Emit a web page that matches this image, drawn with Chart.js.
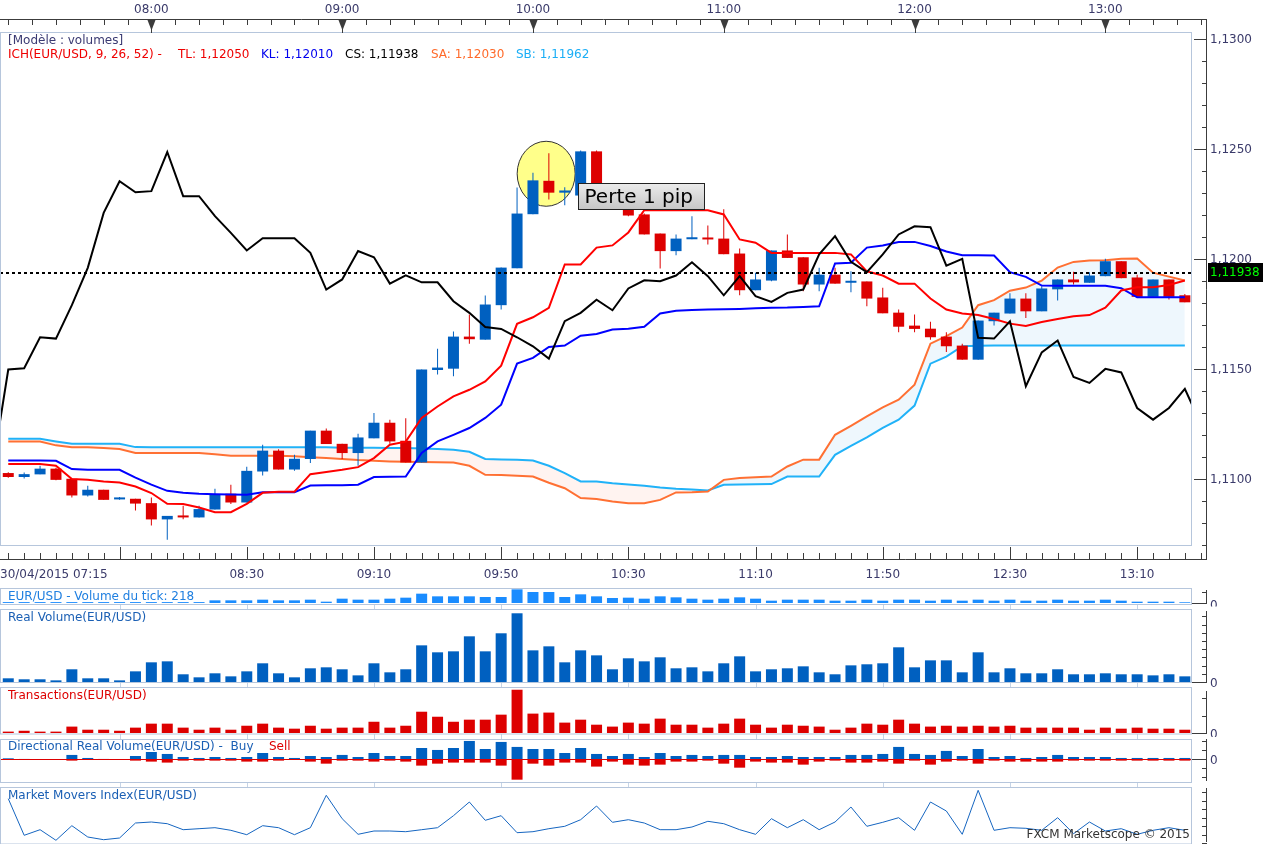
<!DOCTYPE html>
<html lang="fr">
<head>
<meta charset="utf-8">
<title>EUR/USD – Ichimoku & volumes</title>
<script src="https://cdn.jsdelivr.net/npm/chart.js@4.4.1/dist/chart.umd.min.js"></script>
<style>
html,body{margin:0;padding:0;background:#fff;}
#wrap{position:relative;width:1263px;height:844px;overflow:hidden;background:#fff;}
#wrap canvas{position:absolute;left:0;top:0;}
</style>
</head>
<body>
<div id="wrap">
<canvas id="cMain" width="1263" height="844"></canvas>
<canvas id="cTick" width="1263" height="844"></canvas>
<canvas id="cReal" width="1263" height="844"></canvas>
<canvas id="cTrans" width="1263" height="844"></canvas>
<canvas id="cDir" width="1263" height="844"></canvas>
<canvas id="cMmi" width="1263" height="844"></canvas>
</div>
<script>
// ---------------- DATA (5-minute candles, 30/04/2015 from 07:15) ----------------
const DATE_LABEL = '30/04/2015';
const START_TIME = '07:15';
const BAR_MINUTES = 5;

const opens = [1.11026,1.11008,1.11020,1.11046,1.11000,1.10924,1.10950,1.10906,1.10909,1.10889,
1.10815,1.10828,1.10824,1.10860,1.10932,1.10892,1.11033,1.11128,1.11042,1.11090,
1.11219,1.11159,1.11117,1.11184,1.11255,1.11173,1.11074,1.11495,1.11501,1.11647,
1.11633,1.11790,1.11958,1.12204,1.12356,1.12302,1.12289,1.12490,1.12280,1.12226,
1.12203,1.12116,1.12036,1.12090,1.12097,1.12093,1.12025,1.11858,1.11902,1.12039,
1.12008,1.11884,1.11929,1.11892,1.11898,1.11825,1.11756,1.11697,1.11683,1.11647,
1.11606,1.11542,1.11717,1.11752,1.11820,1.11762,1.11862,1.11907,1.11892,1.11922,
1.11990,1.11916,1.11828,1.11907,1.11835];
const highs = [1.11030,1.11029,1.11059,1.11050,1.11000,1.10968,1.10950,1.10917,1.10909,1.10915,
1.10831,1.10877,1.10877,1.10954,1.10973,1.11055,1.11155,1.11134,1.11109,1.11219,
1.11229,1.11159,1.11205,1.11299,1.11269,1.11275,1.11497,1.11592,1.11670,1.11747,
1.11834,1.11961,1.12326,1.12393,1.12481,1.12327,1.12494,1.12494,1.12294,1.12230,
1.12207,1.12116,1.12112,1.12195,1.12153,1.12226,1.12048,1.11937,1.12039,1.12112,
1.12008,1.11960,1.11960,1.11944,1.11898,1.11869,1.11770,1.11747,1.11715,1.11667,
1.11615,1.11720,1.11756,1.11844,1.11844,1.11876,1.11907,1.11942,1.11940,1.12001,
1.11990,1.11929,1.11907,1.11907,1.11841];
const lows = [1.11005,1.11001,1.11020,1.10993,1.10915,1.10919,1.10904,1.10905,1.10856,1.10787,
1.10722,1.10816,1.10824,1.10860,1.10885,1.10892,1.11015,1.11042,1.11036,1.11072,
1.11158,1.11090,1.11059,1.11184,1.11159,1.11074,1.11074,1.11475,1.11466,1.11615,
1.11633,1.11770,1.11958,1.12204,1.12271,1.12245,1.12280,1.12271,1.12230,1.12195,
1.12112,1.11957,1.12017,1.12090,1.12066,1.12022,1.11835,1.11858,1.11899,1.12005,
1.11853,1.11853,1.11888,1.11849,1.11785,1.11753,1.11667,1.11667,1.11633,1.11577,
1.11542,1.11542,1.11698,1.11752,1.11732,1.11762,1.11811,1.11884,1.11892,1.11922,
1.11913,1.11828,1.11828,1.11816,1.11803];
const closes = [1.11008,1.11021,1.11046,1.10995,1.10924,1.10950,1.10904,1.10908,1.10887,1.10815,
1.10831,1.10824,1.10862,1.10930,1.10892,1.11036,1.11128,1.11042,1.11091,1.11219,
1.11158,1.11117,1.11188,1.11255,1.11170,1.11074,1.11497,1.11506,1.11647,1.11635,
1.11793,1.11961,1.12207,1.12358,1.12302,1.12312,1.12490,1.12280,1.12239,1.12198,
1.12112,1.12036,1.12093,1.12098,1.12089,1.12022,1.11858,1.11907,1.12039,1.12005,
1.11884,1.11929,1.11888,1.11896,1.11820,1.11753,1.11692,1.11682,1.11644,1.11603,
1.11542,1.11720,1.11756,1.11820,1.11762,1.11866,1.11907,1.11894,1.11925,1.11990,
1.11913,1.11828,1.11907,1.11828,1.11803];

// Ichimoku lines as drawn, one value per candle
const tenkan = [1.11067,1.11067,1.11067,1.11059,1.10999,1.10995,1.10988,1.10983,1.10965,1.10935,
1.10886,1.10885,1.10869,1.10848,1.10848,1.10886,1.10936,1.10941,1.10941,1.11021,
1.11031,1.11041,1.11053,1.11094,1.11155,1.11169,1.11277,1.11329,1.11375,1.11405,
1.11443,1.11515,1.11705,1.11735,1.11778,1.11975,1.11975,1.12052,1.12062,1.12121,
1.12222,1.12222,1.12222,1.12222,1.12222,1.12203,1.12089,1.12074,1.12028,1.12028,
1.12028,1.12028,1.12028,1.12021,1.11944,1.11925,1.11888,1.11888,1.11820,1.11770,
1.11752,1.11745,1.11727,1.11706,1.11695,1.11713,1.11727,1.11740,1.11745,1.11779,
1.11857,1.11872,1.11872,1.11882,1.11902];
const kijun = [1.11083,1.11083,1.11083,1.11082,1.11044,1.11041,1.11041,1.11041,1.11005,1.10973,
1.10945,1.10936,1.10932,1.10930,1.10928,1.10927,1.10939,1.10939,1.10939,1.10969,
1.10970,1.10971,1.10973,1.11008,1.11009,1.11010,1.11117,1.11170,1.11200,1.11231,
1.11277,1.11337,1.11524,1.11550,1.11600,1.11606,1.11651,1.11659,1.11679,1.11683,
1.11692,1.11752,1.11765,1.11768,1.11770,1.11771,1.11773,1.11776,1.11778,1.11779,
1.11782,1.11785,1.11980,1.11983,1.12052,1.12062,1.12077,1.12078,1.12059,1.12034,
1.12017,1.12017,1.12016,1.11940,1.11919,1.11879,1.11878,1.11878,1.11878,1.11878,
1.11867,1.11826,1.11826,1.11826,1.11826];
// Chikou span: first value sits one bar before the first candle, last one bar after
const CHIKOU_OFFSET = -1;
const chikou = [1.11041,
1.11497,1.11503,1.11644,1.11638,1.11790,1.11960,1.12210,1.12354,1.12304,1.12309,
1.12487,1.12286,1.12286,1.12195,1.12119,1.12039,1.12095,1.12095,1.12095,1.12028,
1.11861,1.11907,1.12036,1.12008,1.11888,1.11926,1.11894,1.11894,1.11808,1.11755,
1.11691,1.11682,1.11644,1.11603,1.11547,1.11717,1.11755,1.11815,1.11767,1.11866,
1.11903,1.11899,1.11925,1.11985,1.11922,1.11835,1.11922,1.11831,1.11805,1.11846,
1.11861,1.12021,1.12104,1.11987,1.11940,1.12021,1.12112,1.12149,1.12145,1.11970,
1.12001,1.11642,1.11638,1.11717,1.11421,1.11575,1.11629,1.11463,1.11436,1.11500,
1.11484,1.11322,1.11269,1.11322,1.11409,1.11251];
const senkouA = [1.11170,1.11170,1.11170,1.11152,1.11143,1.11143,1.11140,1.11135,1.11117,1.11117,
1.11117,1.11117,1.11117,1.11111,1.11105,1.11105,1.11105,1.11105,1.11103,1.11098,
1.11094,1.11090,1.11085,1.11082,1.11079,1.11077,1.11076,1.11075,1.11074,1.11059,
1.11018,1.11017,1.11014,1.11010,1.10982,1.10957,1.10912,1.10908,1.10897,1.10889,
1.10889,1.10904,1.10938,1.10939,1.10942,1.10995,1.11003,1.11007,1.11010,1.11056,
1.11087,1.11087,1.11200,1.11241,1.11284,1.11325,1.11360,1.11428,1.11615,1.11649,
1.11688,1.11790,1.11813,1.11856,1.11870,1.11902,1.11961,1.11987,1.11993,1.11995,
1.12001,1.12002,1.11938,1.11920,1.11902];
const senkouB = [1.11182,1.11182,1.11182,1.11170,1.11159,1.11159,1.11159,1.11159,1.11144,1.11143,
1.11143,1.11143,1.11143,1.11143,1.11143,1.11143,1.11143,1.11143,1.11143,1.11143,
1.11143,1.11141,1.11141,1.11141,1.11140,1.11140,1.11138,1.11135,1.11132,1.11123,
1.11090,1.11088,1.11087,1.11083,1.11059,1.11026,1.10988,1.10988,1.10980,1.10974,
1.10968,1.10960,1.10954,1.10951,1.10947,1.10973,1.10974,1.10975,1.10976,1.11010,
1.11010,1.11010,1.11109,1.11150,1.11188,1.11232,1.11269,1.11333,1.11524,1.11556,
1.11603,1.11605,1.11606,1.11606,1.11606,1.11606,1.11606,1.11606,1.11606,1.11606,
1.11606,1.11606,1.11606,1.11606,1.11606];

// Lower panels
const tickVolume = [270,270,270,270,270,270,270,270,270,270,
270,270,270,800,800,800,1000,800,800,1000,
400,1300,1000,1000,1300,1600,2800,2000,2000,2000,
1800,1800,4100,3300,3300,1800,2600,2000,1500,1600,
1300,2000,1700,1300,1000,1300,1700,1300,700,1000,
1000,1000,700,700,1000,700,1000,1000,700,1000,
700,1000,700,1000,700,700,1000,700,700,1000,
700,400,400,400,218];
const realVolume = [45,33,33,20,155,45,45,20,130,240,
252,94,57,106,69,130,228,106,57,167,
179,155,81,228,118,155,447,362,374,557,
374,594,838,386,435,240,386,325,155,289,
252,301,167,179,130,228,313,130,155,167,
191,118,94,203,216,228,423,179,264,264,
118,362,118,167,106,106,155,94,94,106,
94,94,81,94,69];
const transactions = [8,13,8,8,37,19,19,13,31,54,
54,31,19,31,19,42,54,31,25,42,
25,31,31,65,31,42,123,94,65,77,
77,106,250,112,118,60,77,48,37,60,
54,83,48,48,31,54,83,48,31,48,
42,37,19,31,54,48,77,54,37,42,
37,42,37,42,31,31,31,31,19,31,
25,31,25,25,19];
const buyVolume = [11,4,2,2,49,15,4,2,37,82,
60,26,15,26,15,26,71,26,15,37,
26,49,26,71,37,37,127,105,127,206,
116,195,139,116,116,71,127,60,37,60,
26,71,37,49,37,49,49,26,26,37,
26,26,26,49,49,60,139,60,49,94,
37,116,26,37,15,26,49,26,26,26,
15,15,15,15,15];
const sellVolume = [-4,-4,-2,-2,-15,-4,-4,-2,-15,-26,
-37,-15,-15,-15,-15,-26,-26,-15,-4,-26,
-49,-15,-15,-26,-15,-26,-71,-49,-37,-37,
-37,-71,-229,-49,-71,-37,-37,-82,-26,-60,
-71,-60,-26,-26,-15,-49,-94,-26,-37,-37,
-60,-26,-15,-37,-37,-26,-49,-15,-60,-26,
-15,-49,-15,-26,-26,-26,-26,-15,-15,-15,
-15,-15,-15,-15,-15];
const marketMovers = [44.3,7.7,13.3,2.7,17.3,6,3.3,5,20,21,
19.3,13.3,14.3,15.3,12.7,8.3,17.3,15.3,8.3,15.3,
47.7,24.3,8.7,12,12,11.3,13.3,15.3,27.3,41,
22.7,27.3,10.3,11.3,14.3,16.7,23.3,37,20.7,23.3,
20,13.3,13.3,16,21.7,19.3,13.3,8.7,24.3,15.3,
23.3,13.3,21,36,16.7,20.7,25.3,12.7,41,32,
8.7,52.7,12.7,15.3,14.7,12.7,25.3,9.3,21,12,
14.3,8.7,12.7,15.3,12.7];

// Tick labels
const topHourLabels = ['08:00','09:00','10:00','11:00','12:00','13:00'];
const bottomTimeLabels = ['08:30','09:10','09:50','10:30','11:10','11:50','12:30','13:10'];
const lastPrice = 1.11938;
const lastPriceLabel = '1,11938';
const ichLegend = [
  {text:'ICH(EUR/USD, 9, 26, 52) -', color:'#ee0000', x:8},
  {text:'TL: 1,12050', color:'#ee0000', x:178},
  {text:'KL: 1,12010', color:'#0000ee', x:261},
  {text:'CS: 1,11938', color:'#000000', x:345},
  {text:'SA: 1,12030', color:'#ff6a2a', x:431},
  {text:'SB: 1,11962', color:'#1aaef6', x:516}
];
const highlight = {x:33.83, y:1.12388, rx:29, ry:32.5};
const note = {x:35.83, y:1.12347, text:'Perte 1 pip', w:126, h:26};

// ---------------- LAYOUT / STYLE ----------------
const W = 1263, H = 844, PLOT_RIGHT = 1192, AXIS_X = 1206;
const X_MIN = -0.52, X_MAX = 74.45;
const PRICE_MIN = 1.10694, PRICE_MAX = 1.130332;
const FONT = '12px "DejaVu Sans", sans-serif';
const AXIS_TEXT = '#3a3a6a';
const FRAME = '#b6c6dc';
const UP = '#0060c0', DOWN = '#dd0000';
const N = opens.length;

function toMin(t){ const p = t.split(':').map(Number); return p[0]*60 + p[1]; }
function timeIndex(t){ return (toMin(t) - toMin(START_TIME)) / BAR_MINUTES; }
function pts(arr, off){ off = off || 0; return arr.map((v,i)=>({x:i+off, y:v})); }
function crisp(v){ return Math.round(v) + 0.5; }

function fixedScale(lo, hi){
  return {type:'linear', display:false, min:lo, max:hi, bounds:'data', offset:false, grace:0,
          grid:{offset:false}, ticks:{maxTicksLimit:4},
          afterDataLimits(s){ s.min = lo; s.max = hi; },
          afterBuildTicks(s){ s.min = lo; s.max = hi; }};
}
function baseOptions(top, bottom, yMin, yMax){
  return {
    responsive:false, animation:false, devicePixelRatio:1, events:[],
    layout:{padding:{left:0, right:W-PLOT_RIGHT, top:top, bottom:H-bottom}},
    plugins:{legend:{display:false}, tooltip:{enabled:false}, filler:{drawTime:'beforeDatasetsDraw', propagate:false}},
    scales:{ x:fixedScale(X_MIN, X_MAX), y:fixedScale(yMin, yMax) }
  };
}

// ---------------- MAIN PRICE CHART ----------------
const mainDecor = {
  id:'mainDecor',
  beforeDatasetsDraw(chart){
    const {ctx, scales:{x, y}} = chart;
    ctx.save();
    ctx.beginPath();
    ctx.ellipse(x.getPixelForValue(highlight.x), y.getPixelForValue(highlight.y), highlight.rx, highlight.ry, 0, 0, Math.PI*2);
    ctx.fillStyle = '#ffff8a'; ctx.fill();
    ctx.lineWidth = 1; ctx.strokeStyle = '#333'; ctx.stroke();
    ctx.restore();
  },
  afterDatasetsDraw(chart){
    const {ctx, chartArea:ca, scales:{x, y}} = chart;
    ctx.save();
    const py = Math.round(y.getPixelForValue(lastPrice));
    ctx.setLineDash([3,3]); ctx.lineWidth = 2; ctx.strokeStyle = '#000';
    ctx.beginPath(); ctx.moveTo(ca.left, py); ctx.lineTo(ca.right, py); ctx.stroke();
    ctx.setLineDash([]);
    const bx = crisp(x.getPixelForValue(note.x)), by = crisp(y.getPixelForValue(note.y));
    const g = ctx.createLinearGradient(0, by, 0, by + note.h);
    g.addColorStop(0, '#ebebeb'); g.addColorStop(1, '#c6c6c6');
    ctx.fillStyle = g; ctx.fillRect(bx, by, note.w, note.h);
    ctx.strokeStyle = '#222'; ctx.lineWidth = 1; ctx.strokeRect(bx, by, note.w, note.h);
    ctx.fillStyle = '#000'; ctx.font = '20px "DejaVu Sans", sans-serif';
    ctx.textBaseline = 'middle'; ctx.textAlign = 'left';
    ctx.fillText(note.text, bx + 6, by + note.h/2 + 1);
    ctx.restore();
  },
  afterDraw(chart){
    const {ctx, chartArea:ca, scales:{x, y}} = chart;
    ctx.save();
    ctx.lineWidth = 1;
    ctx.strokeStyle = FRAME;
    ctx.strokeRect(ca.left + 0.5, ca.top + 0.5, ca.width - 1, ca.height - 1);
    ctx.strokeStyle = '#c6d4e6';
    ctx.beginPath();
    for (let i = 7; i < N; i += 8){
      const px = crisp(x.getPixelForValue(i));
      [[604,609],[682,687],[734,739],[782,787]].forEach(s=>{ ctx.moveTo(px, s[0]); ctx.lineTo(px, s[1]); });
    }
    ctx.stroke();

    ctx.strokeStyle = '#3c3c3c'; ctx.fillStyle = '#3c3c3c';
    ctx.beginPath();
    ctx.moveTo(0, 19.5); ctx.lineTo(AXIS_X + 1, 19.5);
    for (let t = 0; x.getPixelForValue(t) <= AXIS_X - 2; t += 1.5){
      const px = crisp(x.getPixelForValue(t));
      ctx.moveTo(px, 19.5); ctx.lineTo(px, 25);
    }
    ctx.moveTo(0, 559.5); ctx.lineTo(AXIS_X + 1, 559.5);
    for (let i = 0; x.getPixelForValue(i) <= AXIS_X - 2; i++){
      const px = crisp(x.getPixelForValue(i));
      const major = (i - 7) % 8 === 0;
      ctx.moveTo(px, major ? 547 : 553); ctx.lineTo(px, 559.5);
    }
    ctx.moveTo(AXIS_X + 0.5, 19); ctx.lineTo(AXIS_X + 0.5, 559.5);
    const k0 = Math.ceil(PRICE_MIN * 1000 - 1e-9), k1 = Math.floor(PRICE_MAX * 1000 + 1e-9);
    for (let k = k0; k <= k1; k++){
      const py = crisp(y.getPixelForValue(k / 1000));
      ctx.moveTo(k % 5 === 0 ? 1194 : AXIS_X - 4, py); ctx.lineTo(AXIS_X + 1, py);
    }
    ctx.stroke();
    topHourLabels.forEach(lbl=>{
      const px = crisp(x.getPixelForValue(timeIndex(lbl)));
      ctx.beginPath(); ctx.moveTo(px - 4, 20); ctx.lineTo(px + 4, 20); ctx.lineTo(px, 30.5); ctx.closePath(); ctx.fill();
      ctx.beginPath(); ctx.moveTo(px, 19.5); ctx.lineTo(px, 33); ctx.stroke();
    });
    ctx.font = FONT; ctx.fillStyle = AXIS_TEXT; ctx.textBaseline = 'middle';
    ctx.textAlign = 'center';
    topHourLabels.forEach(lbl=> ctx.fillText(lbl, x.getPixelForValue(timeIndex(lbl)), 9.5));
    bottomTimeLabels.forEach(lbl=> ctx.fillText(lbl, x.getPixelForValue(timeIndex(lbl)), 574.5));
    ctx.textAlign = 'left';
    ctx.fillText(DATE_LABEL + ' ' + START_TIME, 0, 574.5);
    for (let k = k0; k <= k1; k++){
      if (k % 5 !== 0) continue;
      ctx.fillText((k / 1000).toFixed(4).replace('.', ','), 1210, y.getPixelForValue(k / 1000) + 1);
    }
    const cy = y.getPixelForValue(lastPrice);
    ctx.fillStyle = '#000'; ctx.fillRect(1208, Math.round(cy) - 10, W - 1208, 19);
    ctx.fillStyle = '#00ff00'; ctx.fillText(lastPriceLabel, 1210, cy);
    ctx.fillStyle = '#3a3a72'; ctx.fillText('[Modèle : volumes]', 8, 40.5);
    ichLegend.forEach(s=>{ ctx.fillStyle = s.color; ctx.fillText(s.text, s.x, 54.5); });
    ctx.restore();
  }
};

new Chart(document.getElementById('cMain'), {
  data:{datasets:[
    {type:'line', label:'Chikou', data:pts(chikou, CHIKOU_OFFSET), borderColor:'#000', borderWidth:2, pointRadius:0, tension:0, fill:false, order:0},
    {type:'line', label:'Tenkan', data:pts(tenkan), borderColor:'#ff0000', borderWidth:2, pointRadius:0, tension:0, fill:false, order:1},
    {type:'line', label:'Kijun', data:pts(kijun), borderColor:'#0000ff', borderWidth:2, pointRadius:0, tension:0, fill:false, order:2},
    {type:'bar', label:'Body', data:opens.map((o,i)=>({x:i, y:[o, closes[i]]})),
      backgroundColor:ctx=> closes[ctx.dataIndex] >= opens[ctx.dataIndex] ? UP : DOWN,
      grouped:false, maxBarThickness:11, minBarLength:2, inflateAmount:0, borderWidth:0, order:3},
    {type:'bar', label:'Wick', data:lows.map((l,i)=>({x:i, y:[l, highs[i]]})),
      backgroundColor:ctx=> closes[ctx.dataIndex] >= opens[ctx.dataIndex] ? UP : DOWN,
      grouped:false, maxBarThickness:1, inflateAmount:0, borderWidth:0, order:4},
    {type:'line', label:'Senkou A', data:pts(senkouA), borderColor:'#ff7033', borderWidth:2, pointRadius:0, tension:0,
      fill:{target:6, above:'rgb(238,247,253)', below:'rgb(255,243,240)'}, order:5},
    {type:'line', label:'Senkou B', data:pts(senkouB), borderColor:'#20b2f8', borderWidth:2, pointRadius:0, tension:0, fill:false, order:6}
  ]},
  options:baseOptions(32, 546, PRICE_MIN, PRICE_MAX),
  plugins:[mainDecor]
});

// ---------------- LOWER PANELS ----------------
function panelDecor(cfg){
  return {
    id:'panelDecor',
    afterDatasetsDraw(chart){
      if (!cfg.zeroLine) return;
      const {ctx, chartArea:ca, scales:{y}} = chart;
      const zy = crisp(y.getPixelForValue(0));
      ctx.save(); ctx.strokeStyle = cfg.zeroLine; ctx.lineWidth = 1;
      ctx.beginPath(); ctx.moveTo(ca.left, zy); ctx.lineTo(ca.right, zy); ctx.stroke(); ctx.restore();
    },
    afterDraw(chart){
      const {ctx, scales:{y}} = chart;
      ctx.save();
      ctx.lineWidth = 1;
      ctx.strokeStyle = FRAME;
      ctx.strokeRect(0.5, cfg.frame[0] + 0.5, PLOT_RIGHT - 1, cfg.frame[1] - cfg.frame[0]);
      ctx.strokeStyle = '#3c3c3c';
      ctx.beginPath();
      ctx.moveTo(AXIS_X + 0.5, cfg.axis[0]); ctx.lineTo(AXIS_X + 0.5, cfg.axis[1]);
      const k0 = Math.ceil(cfg.min / cfg.step - 1e-9), k1 = Math.floor(cfg.max / cfg.step + 1e-9);
      for (let k = k0; k <= k1; k++){
        const ty = crisp(y.getPixelForValue(k * cfg.step));
        const long = k === 0 && cfg.zeroTick;
        ctx.moveTo(long ? PLOT_RIGHT : AXIS_X - 4, ty); ctx.lineTo(AXIS_X + 1, ty);
      }
      ctx.stroke();
      ctx.font = FONT; ctx.textBaseline = 'middle'; ctx.textAlign = 'left';
      if (cfg.zeroLabel){
        const zy = y.getPixelForValue(0);
        ctx.save();
        if (cfg.zeroClip){ ctx.beginPath(); ctx.rect(1207, zy - 10, 40, 10 + cfg.zeroClip); ctx.clip(); }
        ctx.fillStyle = AXIS_TEXT; ctx.fillText('0', 1210, zy + cfg.zeroLabel);
        ctx.restore();
      }
      let tx = 8;
      cfg.titles.forEach(t=>{
        if (t.minX) tx = Math.max(tx, t.minX);
        ctx.fillStyle = t.color; ctx.fillText(t.text, tx, cfg.titleY);
        tx += ctx.measureText(t.text).width + 6;
      });
      if (cfg.footer){
        ctx.textAlign = 'right'; ctx.fillStyle = '#333';
        ctx.fillText(cfg.footer, PLOT_RIGHT - 2, 835);
      }
      ctx.restore();
    }
  };
}

function barSet(values, color, label){
  return {type:'bar', label:label, data:pts(values), backgroundColor:color, grouped:false,
          maxBarThickness:11, inflateAmount:0, borderWidth:0};
}

const panels = [
  {id:'cTick', top:589, bottom:603, min:0, max:4200, step:3300, frame:[588,604], axis:[590,603.5], zeroTick:true,
   zeroLabel:3, zeroClip:3.5, titleY:597,
   titles:[{text:'EUR/USD - Volume du tick: 218', color:'#1f7fe0'}],
   datasets:[barSet(tickVolume, '#1a8cff', 'Volume du tick')]},
  {id:'cReal', top:610, bottom:682, min:0, max:878, step:100, frame:[609,682], axis:[611,682], zeroTick:true,
   zeroLabel:2, zeroClip:5, titleY:617.5,
   titles:[{text:'Real Volume(EUR/USD)', color:'#1a5fb4'}],
   datasets:[barSet(realVolume, UP, 'Real Volume')]},
  {id:'cTrans', top:688, bottom:733, min:0, max:260, step:100, frame:[687,733.5], axis:[691,733.5], zeroTick:true,
   zeroLabel:2, zeroClip:4, titleY:695.5,
   titles:[{text:'Transactions(EUR/USD)', color:'#dd0000'}],
   datasets:[barSet(transactions, DOWN, 'Transactions')]},
  {id:'cDir', top:739, bottom:782, min:-255, max:228, step:100, frame:[739,782], axis:[739,781], zeroTick:true,
   zeroLabel:1.5, zeroClip:0, titleY:746.5, zeroLine:'#dd0000',
   titles:[{text:'Directional Real Volume(EUR/USD) -  Buy', color:'#1a5fb4'}, {text:'Sell', color:'#dd0000', minX:269}],
   datasets:[barSet(buyVolume, UP, 'Buy'), barSet(sellVolume, DOWN, 'Sell')]},
  {id:'cMmi', top:788, bottom:843, min:0, max:55, step:8.5, frame:[787,843.5], axis:[788,842], zeroTick:false,
   zeroLabel:0, titleY:795.5, footer:'FXCM Marketscope © 2015',
   titles:[{text:'Market Movers Index(EUR/USD)', color:'#1a5fb4'}],
   datasets:[{type:'line', label:'Market Movers Index', data:pts(marketMovers), borderColor:'#1565c0', borderWidth:1,
              pointRadius:0, tension:0, fill:false}]}
];

panels.forEach(p=>{
  new Chart(document.getElementById(p.id), {
    data:{datasets:p.datasets},
    options:baseOptions(p.top, p.bottom, p.min, p.max),
    plugins:[panelDecor(p)]
  });
});
</script>
</body>
</html>
